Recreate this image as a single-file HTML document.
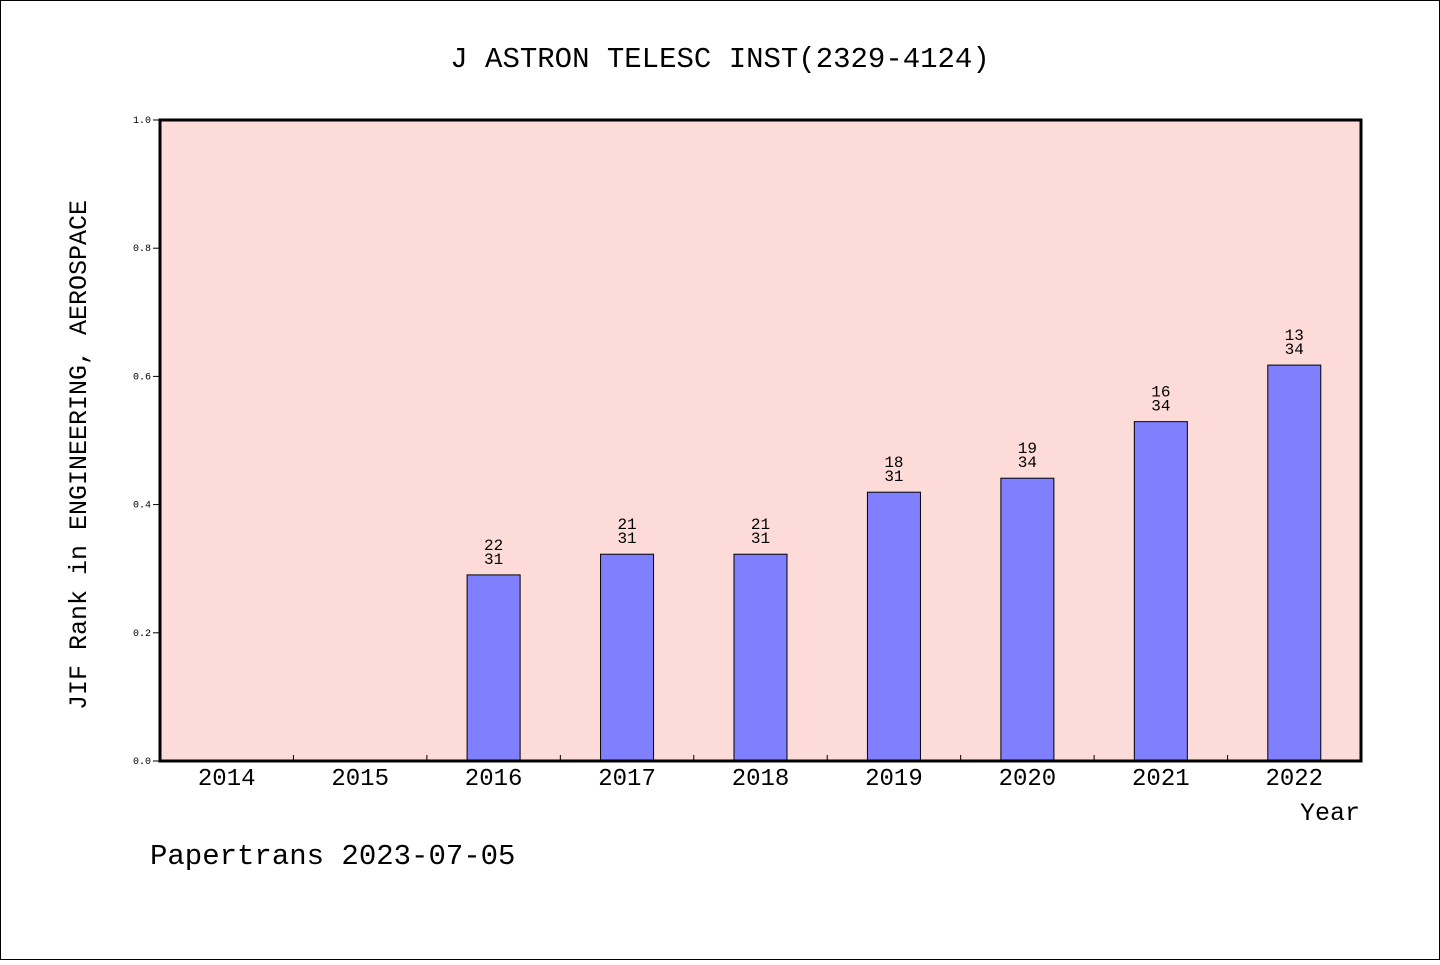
<!DOCTYPE html>
<html><head><meta charset="utf-8"><style>
body{margin:0;background:#fff}
svg text{font-family:"Liberation Mono","WenQuanYi Zen Hei",monospace}
</style></head><body>
<svg width="1440" height="960">
<rect x="0.5" y="0.5" width="1439" height="959" fill="#fff" stroke="#000"/>
<text x="720" y="67" text-anchor="middle" font-size="29">J ASTRON TELESC INST(2329-4124)</text>
<rect x="160" y="120" width="1201" height="641" fill="#fddbd8"/>
<g id="bars"></g>
<g id="axes"></g>
<rect x="160" y="120" width="1201" height="641" fill="none" stroke="#000" stroke-width="3"/>
<text transform="translate(86,455) rotate(-90)" text-anchor="middle" font-size="25">JIF Rank in ENGINEERING, AEROSPACE</text>
<text x="1360" y="820" text-anchor="end" font-size="25">Year</text>
<text x="150" y="864" font-size="29">Papertrans 2023-07-05</text>
</svg>
<script>
const categories=["2014","2015","2016","2017","2018","2019","2020","2021","2022"];
const ranks=[null,null,22,21,21,18,19,16,13];
const totals=[null,null,31,31,31,31,34,34,34];
const yTicks=[0,0.2,0.4,0.6,0.8,1.0];
const NS="http://www.w3.org/2000/svg";
const X0=160,X1=1361,Y0=761,Y1=120;
const bw=(X1-X0)/categories.length;
const xc=i=>X0+bw*(i+0.5);
const y=v=>Y0-v*(Y0-Y1);
function mk(t,a,p){const e=document.createElementNS(NS,t);for(const k in a)e.setAttribute(k,a[k]);p.appendChild(e);return e;}
const bars=document.getElementById('bars'),axes=document.getElementById('axes');
categories.forEach((c,i)=>{
  const t=mk('text',{x:xc(i),y:785,'text-anchor':'middle','font-size':24},axes);t.textContent=c;
  
  
  if(i>0){const l=mk('line',{x1:X0+bw*i,x2:X0+bw*i,y1:Y0,y2:Y0-6,stroke:'#000'},axes);
  
  }
  if(ranks[i]==null)return;
  const v=(totals[i]-ranks[i])/totals[i];
  const r=mk('rect',{x:xc(i)-26.5,y:y(v),width:53,height:Y0-y(v),fill:'#8080ff',stroke:'#000','stroke-width':1},bars);
  
  
  const a=mk('text',{x:xc(i),y:y(v)-25,'text-anchor':'middle','font-size':16},bars);a.textContent=ranks[i];
  
  
  const b=mk('text',{x:xc(i),y:y(v)-11,'text-anchor':'middle','font-size':16},bars);b.textContent=totals[i];
  
  
});
yTicks.forEach(v=>{
  const l=mk('line',{x1:X0-7,x2:X0,y1:y(v),y2:y(v),stroke:'#000'},axes);
  
  
  const t=mk('text',{x:X0-9,y:y(v)+3,'text-anchor':'end','font-size':10,'font-family':'Liberation Sans, sans-serif'},axes);
  t.textContent=v.toFixed(1);
  
  
});
</script>
</body></html>
